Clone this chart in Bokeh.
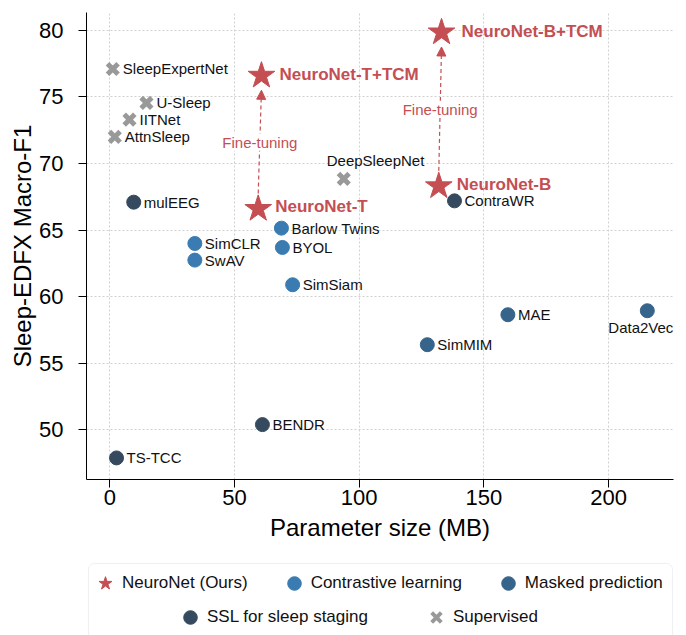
from bokeh.plotting import figure
from bokeh.layouts import column
from bokeh.models import (ColumnDataSource, Range1d, Legend, LegendItem, Arrow,
                          NormalHead, Label, FixedTicker, BoxAnnotation)
from bokeh.embed import file_html
from bokeh.resources import INLINE
from bokeh.core.properties import value

# ---------------- data ----------------
neuronet_names = ["NeuroNet-T", "NeuroNet-T+TCM", "NeuroNet-B", "NeuroNet-B+TCM"]
neuronet_size = [59.5, 60.8, 131.9, 133.0]
neuronet_f1 = [66.6, 76.6, 68.3, 79.85]

contrastive_names = ["SimCLR", "SwAV", "BYOL", "Barlow Twins", "SimSiam"]
contrastive_size = [34.1, 34.1, 69.2, 68.8, 73.3]
contrastive_f1 = [64.0, 62.75, 63.7, 65.15, 60.9]

masked_names = ["SimMIM", "MAE", "Data2Vec"]
masked_size = [127.3, 159.6, 215.5]
masked_f1 = [56.4, 58.65, 58.95]

sleep_ssl_names = ["mulEEG", "ContraWR", "BENDR", "TS-TCC"]
sleep_ssl_size = [9.6, 138.2, 61.2, 2.7]
sleep_ssl_f1 = [67.1, 67.2, 50.4, 47.9]

supervised_names = ["SleepExpertNet", "U-Sleep", "IITNet", "AttnSleep", "DeepSleepNet"]
supervised_size = [1.2, 14.7, 7.9, 2.0, 93.8]
supervised_f1 = [77.1, 74.55, 73.3, 72.0, 68.85]

x_ticks = [0, 50, 100, 150, 200]
y_ticks = [50, 55, 60, 65, 70, 75, 80]

legend_labels = ["NeuroNet (Ours)", "Contrastive learning", "Masked prediction",
                 "SSL for sleep staging", "Supervised"]

# ---------------- styles ----------------
FONT = "Liberation Sans"
RED = "#C44E52"
C_CONTRA = "#3A7BB1"
C_MASKED = "#36648B"
C_SSL = "#354A5F"
C_SUP = "#999999"

STAR_SIZE = 28
DOT_SIZE = 14
X_SIZE = 15
X_WIDTH = 5

# label offsets in screen pixels (dx, dy)
label_offsets = {
    "NeuroNet-T": (17, -2), "NeuroNet-T+TCM": (18, -1),
    "NeuroNet-B": (18, -2), "NeuroNet-B+TCM": (20, -1),
    "DeepSleepNet": (-17, -18), "Data2Vec": (-39, 17),
}
DEFAULT_OFF = (10, 0)

p = figure(width=678, height=555, output_backend="svg", toolbar_location=None,
           x_range=Range1d(-9.34, 226.0), y_range=Range1d(46.28, 81.34),
           min_border_left=86, min_border_right=5, min_border_top=12,
           min_border_bottom=76)
p.outline_line_color = None
p.background_fill_color = "white"
p.border_fill_color = "white"

p.xaxis.ticker = FixedTicker(ticks=x_ticks)
p.yaxis.ticker = FixedTicker(ticks=y_ticks)
p.grid.grid_line_color = "#d0d0d0"
p.grid.grid_line_dash = "2 2"
p.grid.grid_line_width = 1

p.xaxis.axis_label = "Parameter size (MB)"
p.yaxis.axis_label = "Sleep-EDFX Macro-F1"
for ax in (p.xaxis, p.yaxis):
    ax.axis_label_text_font = FONT
    ax.axis_label_text_font_size = "24px"
    ax.axis_label_text_font_style = "normal"
    ax.axis_label_text_color = "black"
    ax.major_label_text_font = FONT
    ax.major_label_text_font_size = "22px"
    ax.major_label_text_color = "black"
    ax.axis_line_color = "black"
    ax.axis_line_width = 1
    ax.major_tick_line_color = "black"
    ax.major_tick_out = 8
    ax.major_tick_in = 0
    ax.minor_tick_line_color = None
p.xaxis.major_label_standoff = 2
p.yaxis.major_label_standoff = 15
p.xaxis.axis_label_standoff = 6
p.yaxis.axis_label_standoff = 0


def make_src(names, xs, ys):
    dx = [label_offsets.get(n, DEFAULT_OFF)[0] for n in names]
    dy = [label_offsets.get(n, DEFAULT_OFF)[1] for n in names]
    return ColumnDataSource(dict(x=xs, y=ys, name=names, dx=dx, dy=dy))


src_nn = make_src(neuronet_names, neuronet_size, neuronet_f1)
src_co = make_src(contrastive_names, contrastive_size, contrastive_f1)
src_ma = make_src(masked_names, masked_size, masked_f1)
src_ss = make_src(sleep_ssl_names, sleep_ssl_size, sleep_ssl_f1)
src_su = make_src(supervised_names, supervised_size, supervised_f1)

# arrows (fine-tuning)
for i_from, i_to in [(0, 1), (2, 3)]:
    p.add_layout(Arrow(
        end=NormalHead(size=9, fill_color=RED, line_color=RED, line_width=1),
        x_start=neuronet_size[i_from], y_start=neuronet_f1[i_from] + 1.15,
        x_end=neuronet_size[i_to], y_end=neuronet_f1[i_to] - 1.1,
        line_color=RED, line_dash="4 3", line_width=1.2))
    p.add_layout(Label(
        x=(neuronet_size[i_from] + neuronet_size[i_to]) / 2,
        y=(neuronet_f1[i_from] + neuronet_f1[i_to]) / 2,
        text="Fine-tuning", text_align="center", text_baseline="middle",
        text_color=RED, text_font=FONT, text_font_size="15px",
        background_fill_color="white"))

p.scatter("x", "y", source=src_nn, marker="star", size=STAR_SIZE,
          fill_color=RED, line_color=RED)
p.scatter("x", "y", source=src_co, marker="circle", size=DOT_SIZE,
          fill_color=C_CONTRA, line_color=C_CONTRA)
p.scatter("x", "y", source=src_ma, marker="circle", size=DOT_SIZE,
          fill_color=C_MASKED, line_color=C_MASKED)
p.scatter("x", "y", source=src_ss, marker="circle", size=DOT_SIZE,
          fill_color=C_SSL, line_color=C_SSL)
p.scatter("x", "y", source=src_su, marker="x", size=X_SIZE,
          line_color=C_SUP, line_width=X_WIDTH)

for src in (src_co, src_ma, src_ss, src_su):
    p.text("x", "y", text="name", source=src, x_offset="dx", y_offset="dy",
           text_align="left", text_baseline="middle", text_color="#111111",
           text_font=value(FONT), text_font_size="15px")
p.text("x", "y", text="name", source=src_nn, x_offset="dx", y_offset="dy",
       text_align="left", text_baseline="middle", text_color=RED,
       text_font=value(FONT), text_font_size="17px", text_font_style="bold")

# ---------------- legend panel ----------------
lg = figure(width=678, height=80, output_backend="svg", toolbar_location=None,
            x_range=Range1d(0, 1), y_range=Range1d(0, 1),
            x_axis_location=None, y_axis_location=None,
            min_border_left=86, min_border_right=5, min_border_top=6,
            min_border_bottom=0)
lg.grid.visible = False
lg.outline_line_color = None
lg.background_fill_color = "white"
lg.border_fill_color = "white"

# rounded legend frame (its lower edge runs off the bottom of the page)
lg.add_layout(BoxAnnotation(left=0.0034, right=0.9983, top=0.973, bottom=-0.5,
                            fill_alpha=0, line_color="#cccccc", line_width=1,
                            border_radius=6))

# legend proxies: each one holds its series' first point (outside this panel's ranges)
l_nn = lg.scatter("x", "y", source=ColumnDataSource(dict(x=neuronet_size[:1], y=neuronet_f1[:1])),
                  marker="star", fill_color=RED, line_color=RED)
l_co = lg.scatter("x", "y", source=ColumnDataSource(dict(x=contrastive_size[:1], y=contrastive_f1[:1])),
                  marker="circle", fill_color=C_CONTRA, line_color=C_CONTRA)
l_ma = lg.scatter("x", "y", source=ColumnDataSource(dict(x=masked_size[:1], y=masked_f1[:1])),
                  marker="circle", fill_color=C_MASKED, line_color=C_MASKED)
l_ss = lg.scatter("x", "y", source=ColumnDataSource(dict(x=sleep_ssl_size[:1], y=sleep_ssl_f1[:1])),
                  marker="circle", fill_color=C_SSL, line_color=C_SSL)
l_su = lg.scatter("x", "y", source=ColumnDataSource(dict(x=supervised_size[:1], y=supervised_f1[:1])),
                  marker="x", line_color=C_SUP, line_width=4)

common = dict(orientation="horizontal", glyph_width=34, glyph_height=36,
              label_height=20, label_standoff=0, padding=0, margin=0,
              border_line_alpha=0, background_fill_alpha=0,
              label_text_font=FONT, label_text_font_size="17px",
              label_text_color="#111111")
leg1 = Legend(items=[LegendItem(label=legend_labels[0], renderers=[l_nn]),
                     LegendItem(label=legend_labels[1], renderers=[l_co]),
                     LegendItem(label=legend_labels[2], renderers=[l_ma])],
              location=(2, 34), spacing=29, **common)
leg2 = Legend(items=[LegendItem(label=legend_labels[3], renderers=[l_ss]),
                     LegendItem(label=legend_labels[4], renderers=[l_su])],
              location=(87, 0), spacing=51, **common)
lg.add_layout(leg1)
lg.add_layout(leg2)

layout = column(p, lg, spacing=0)
open("out.html", "w").write(file_html(layout, INLINE))
